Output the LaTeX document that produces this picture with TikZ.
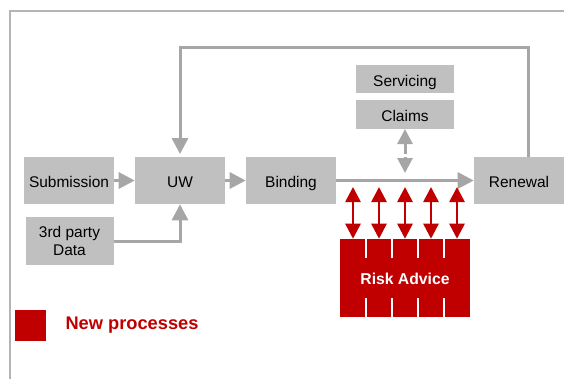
\documentclass[tikz,border=0pt]{standalone}
\usepackage{fontspec}
\setmainfont{Liberation Sans}
\usepackage{xcolor}
\usepackage{tikz}
\usetikzlibrary{positioning,arrows.meta,calc}
\definecolor{boxgray}{HTML}{C0C0C0}
\definecolor{linegray}{HTML}{A6A6A6}
\definecolor{framegray}{HTML}{B4B4B4}
\definecolor{advred}{HTML}{C00000}
\tikzset{
basebox/.style={
fill=boxgray,
minimum width=67.5pt,
minimum height=35.25pt,
inner sep=0pt,
align=center,
font=\fontsize{11.6}{13.5}\selectfont
},
procbox/.style={
basebox,
text height=13.5pt,
text depth=2.6pt
},
smallbox/.style={
procbox,
minimum width=73.5pt,
minimum height=21.4pt
},
riskbox/.style={
fill=advred,
minimum width=97.5pt,
minimum height=58.5pt,
inner sep=0pt,
text height=10.4pt,
text depth=0pt,
text=white,
font=\fontsize{11.8}{14}\selectfont\bfseries
},
grayarrow/.style={
-{Triangle[length=12pt,width=12pt]},
draw=linegray,
line width=2.25pt
},
redarrow/.style={
{Triangle[length=11.25pt,width=11.25pt]}-{Triangle[length=11.25pt,width=11.25pt]},
draw=advred,
line width=2pt
}
}

\begin{document}
\begin{tikzpicture}[x=0.75pt,y=-0.75pt]
\useasboundingbox (0,0) rectangle (564,379);
% frame
\draw[framegray,line width=1.5pt] (10,379) -- (10,11) -- (564,11);

\node[procbox] (sub) at (69,180.5) {Submission};
\node[procbox] (uw) at (180,180.5) {UW};
\node[procbox] (bind) at (291,180.5) {Binding};
\node[procbox] (ren) at (519,180.5) {Renewal};
\node[basebox,minimum width=66pt,minimum height=36pt] (third) at (69.5,241) {3rd party\\Data};
\node[smallbox] (serv) at (405,79) {Servicing};
\node[smallbox] (claims) at (405,114.5) {Claims};
\node[riskbox] (risk) at (405,278) {Risk Advice};

% slits in risk advice
\foreach \x in {366,392,418,444}{
\fill[white] (\x-1.4,238) rectangle (\x+1.4,258);
\fill[white] (\x-1.4,298) rectangle (\x+1.4,318);
}

\draw[grayarrow](sub)--(uw);
\draw[grayarrow](uw)--(bind);
\draw[grayarrow](bind)--(ren);
\draw[grayarrow](third.east)-|(uw.south);

% loop back from renewal
\coordinate (looptop) at (528,47);
\draw[grayarrow,shorten >=2pt](ren.north -| looptop)--(looptop)-|(uw.north);

% claims arrows
\coordinate (cup) at (405,154);
\coordinate (cdown) at (405,157);
\coordinate (cdtip) at (405,173);
\draw[grayarrow,-{Triangle[length=11.25pt,width=11.25pt]}](cup)--(claims.south);
\draw[grayarrow,-{Triangle[length=11.25pt,width=11.25pt]}](cdown)--(cdtip);

% red arrows
\foreach \x [count=\i] in {353,379,405,431,457}{
\coordinate (ra\i) at (\x,187);
\draw[redarrow](ra\i)--(ra\i |- risk.north);
}

% legend
\node[fill=advred,minimum size=23.25pt,inner sep=0pt] (legend) at (30.5,325.5) {};
\node[right=14.25pt of legend,inner sep=0pt,text=advred,font=\fontsize{13.7}{16}\selectfont\bfseries] (legtext) {New processes};
\end{tikzpicture}
\end{document}
